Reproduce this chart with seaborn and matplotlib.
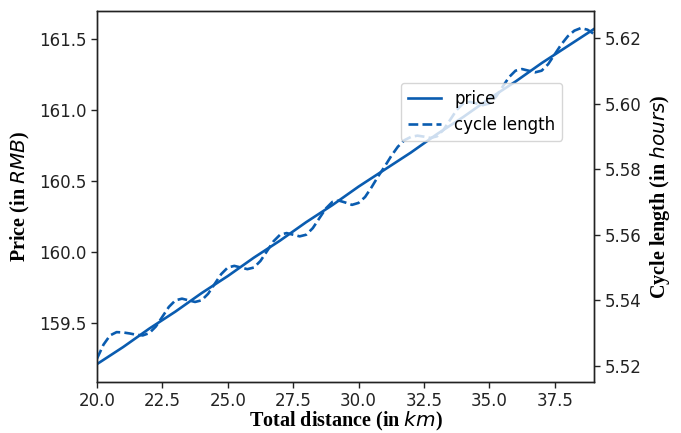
import matplotlib
matplotlib.use("Agg")
import matplotlib.pyplot as plt
import seaborn as sns
import pandas as pd

# ---- data ----
distance_km = [20, 21, 22, 23, 24, 25, 26, 27, 28, 29,
               30, 31, 32, 33, 34, 35, 36, 37, 38, 39]
price_rmb = [159.21, 159.33, 159.46, 159.58, 159.71, 159.83, 159.96, 160.08, 160.21, 160.33,
             160.46, 160.58, 160.70, 160.83, 160.95, 161.08, 161.20, 161.33, 161.45, 161.57]

cycle_distance_km = [20.00, 20.25, 20.50, 20.75, 21.00, 21.25, 21.50, 21.75,
                     22.00, 22.25, 22.50, 22.75, 23.00, 23.25, 23.50, 23.75,
                     24.00, 24.25, 24.50, 24.75, 25.00, 25.25, 25.50, 25.75,
                     26.00, 26.25, 26.50, 26.75, 27.00, 27.25, 27.50, 27.75,
                     28.00, 28.25, 28.50, 28.75, 29.00, 29.25, 29.50, 29.75,
                     30.00, 30.25, 30.50, 30.75, 31.00, 31.25, 31.50, 31.75,
                     32.00, 32.25, 32.50, 32.75, 33.00, 33.25, 33.50, 33.75,
                     34.00, 34.25, 34.50, 34.75, 35.00, 35.25, 35.50, 35.75,
                     36.00, 36.25, 36.50, 36.75, 37.00, 37.25, 37.50, 37.75,
                     38.00, 38.25, 38.50, 38.75, 39.00]
cycle_length_h = [5.5222, 5.5265, 5.5293, 5.5303, 5.5302, 5.5299, 5.5295, 5.5293,
                  5.5300, 5.5320, 5.5350, 5.5380, 5.5400, 5.5405, 5.5400, 5.5395,
                  5.5400, 5.5420, 5.5450, 5.5480, 5.5500, 5.5505, 5.5500, 5.5495,
                  5.5500, 5.5520, 5.5550, 5.5580, 5.5600, 5.5605, 5.5600, 5.5595,
                  5.5600, 5.5620, 5.5650, 5.5680, 5.5700, 5.5704, 5.5698, 5.5691,
                  5.5697, 5.5715, 5.5745, 5.5778, 5.5808, 5.5840, 5.5868, 5.5888,
                  5.5898, 5.5902, 5.5899, 5.5895, 5.5900, 5.5920, 5.5950, 5.5980,
                  5.6000, 5.6005, 5.6000, 5.5995, 5.6000, 5.6020, 5.6050, 5.6080,
                  5.6100, 5.6105, 5.6100, 5.6095, 5.6100, 5.6120, 5.6150, 5.6180,
                  5.6205, 5.6222, 5.6230, 5.6225, 5.6212]

x_ticks = [20.0, 22.5, 25.0, 27.5, 30.0, 32.5, 35.0, 37.5]
left_ticks = [159.5, 160.0, 160.5, 161.0, 161.5]
right_ticks = [5.52, 5.54, 5.56, 5.58, 5.60, 5.62]

df_price = pd.DataFrame({"distance": distance_km, "price": price_rmb})
df_cycle = pd.DataFrame({"distance": cycle_distance_km, "cycle": cycle_length_h})

COLOR = "#0a5cb0"

fig = plt.figure(figsize=(6.81, 4.33), dpi=100)
ax = fig.add_axes([0.1424, 0.1178, 0.7298, 0.8568])
ax2 = ax.twinx()

sns.lineplot(data=df_price, x="distance", y="price", ax=ax, color=COLOR,
             linewidth=1.9, label="price", legend=False)
sns.lineplot(data=df_cycle, x="distance", y="cycle", ax=ax2, color=COLOR,
             linewidth=1.9, linestyle="--", label="cycle length", legend=False)

ax.set_xlim(20, 39)
ax.set_ylim(159.084, 161.697)
ax2.set_ylim(5.5151, 5.6282)
ax.set_xticks(x_ticks)
ax.set_xticklabels([f"{t:.1f}" for t in x_ticks])
ax.set_yticks(left_ticks)
ax.set_yticklabels([f"{t:.1f}" for t in left_ticks])
ax2.set_yticks(right_ticks)
ax2.set_yticklabels([f"{t:.2f}" for t in right_ticks])

for a in (ax, ax2):
    a.tick_params(labelsize=12, length=4, width=1, colors="#222222", labelcolor="#222222")
    for s in a.spines.values():
        s.set_color("#222222")
        s.set_linewidth(1.0)

lab_font = dict(family="Liberation Serif", weight="bold", size=14.5)
ax.set_xlabel(r"Total distance (in $km$)", fontdict=lab_font, labelpad=0)
ax.set_ylabel(r"Price (in $RMB$)", fontdict=lab_font, labelpad=5)
ax2.set_ylabel(r"Cycle length (in $hours$)", fontdict=lab_font, labelpad=5)

h1, l1 = ax.get_legend_handles_labels()
h2, l2 = ax2.get_legend_handles_labels()
leg = ax2.legend(h1 + h2, l1 + l2, loc="upper left", bbox_to_anchor=(0.612, 0.806),
                 borderaxespad=0, fontsize=12, frameon=True, handlelength=2.0)
leg.get_frame().set_edgecolor("#cccccc")

fig.savefig("out.png", dpi=100)
